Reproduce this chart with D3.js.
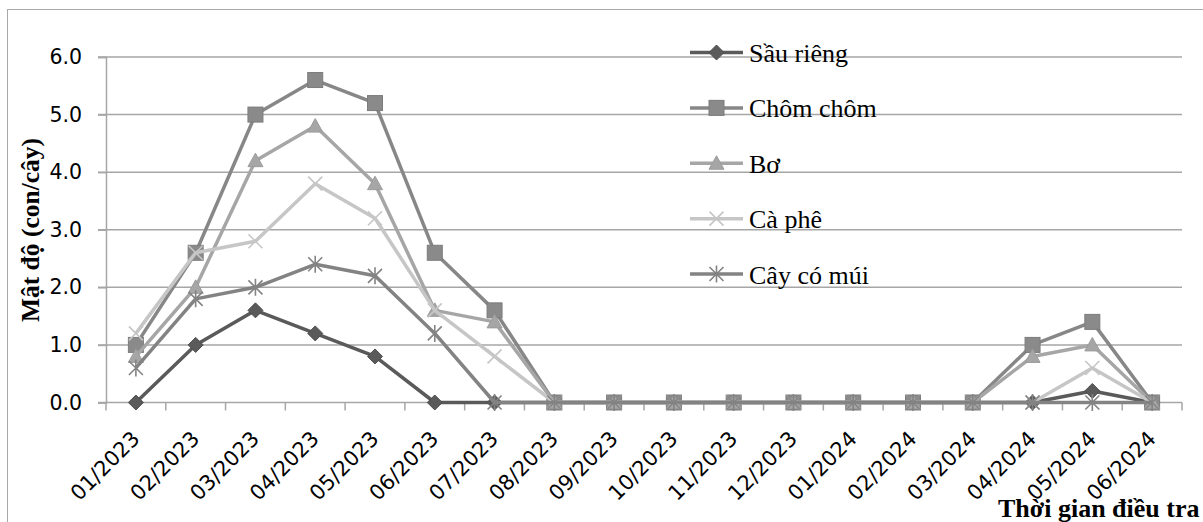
<!DOCTYPE html>
<html>
<head>
<meta charset="utf-8">
<script src="https://cdn.jsdelivr.net/npm/d3@7"></script>
<style>
  html, body { margin: 0; padding: 0; background: #fff; }
  svg { display: block; }
</style>
</head>
<body>
<svg id="chart" width="1203" height="522"></svg>
<script>
// Survey months
const months = ["01/2023","02/2023","03/2023","04/2023","05/2023","06/2023","07/2023","08/2023","09/2023","10/2023","11/2023","12/2023","01/2024","02/2024","03/2024","04/2024","05/2024","06/2024"];

// Pest density (con/cây) per crop
const sauRieng  = [0, 1.0, 1.6, 1.2, 0.8, 0, 0, 0, 0, 0, 0, 0, 0, 0, 0, 0, 0.2, 0];
const chomChom  = [1.0, 2.6, 5.0, 5.6, 5.2, 2.6, 1.6, 0, 0, 0, 0, 0, 0, 0, 0, 1.0, 1.4, 0];
const bo        = [0.8, 2.0, 4.2, 4.8, 3.8, 1.6, 1.4, 0, 0, 0, 0, 0, 0, 0, 0, 0.8, 1.0, 0];
const caPhe     = [1.2, 2.6, 2.8, 3.8, 3.2, 1.6, 0.8, 0, 0, 0, 0, 0, 0, 0, 0, 0, 0.6, 0];
const cayCoMui  = [0.6, 1.8, 2.0, 2.4, 2.2, 1.2, 0, 0, 0, 0, 0, 0, 0, 0, 0, 0, 0, 0];

const seriesNames = ["Sầu riêng", "Chôm chôm", "Bơ", "Cà phê", "Cây có múi"];
const yTicks = [0, 1, 2, 3, 4, 5, 6];

const yTitle = "Mật độ (con/cây)";
const xTitle = "Thời gian điều tra";

const series = [
  { name: seriesNames[0], values: sauRieng, color: "#5a5a5a", marker: "diamond", mfill: "#5a5a5a" },
  { name: seriesNames[1], values: chomChom, color: "#878787", marker: "square",  mfill: "#8a8a8a" },
  { name: seriesNames[2], values: bo,       color: "#a6a6a6", marker: "triangle", mfill: "#a6a6a6" },
  { name: seriesNames[3], values: caPhe,    color: "#c6c6c6", marker: "x",       mfill: "#c6c6c6" },
  { name: seriesNames[4], values: cayCoMui, color: "#838383", marker: "asterisk", mfill: "#838383" }
];

const svg = d3.select("#chart");
const W = 1203, H = 522;
const plot = { left: 106, right: 1182, top: 57, bottom: 402.5 };

// Outer chart frame
svg.append("rect")
  .attr("x", 7.5).attr("y", 9.5)
  .attr("width", W + 20).attr("height", H + 20)
  .attr("fill", "none").attr("stroke", "#a8a8a8").attr("stroke-width", 1);

const x = d3.scalePoint().domain(months).range([plot.left, plot.right]).padding(0.5);
const band = (plot.right - plot.left) / months.length;
const y = d3.scaleLinear().domain([0, 6]).range([plot.bottom, plot.top]);

const gridColor = "#a6a6a6";
const tickFont = "DejaVu Sans, sans-serif";

// Horizontal gridlines with left tick marks
svg.append("g").selectAll("line")
  .data(yTicks.filter(d => d > 0))
  .join("line")
  .attr("x1", plot.left - 8).attr("x2", plot.right)
  .attr("y1", d => y(d)).attr("y2", d => y(d))
  .attr("stroke", gridColor).attr("stroke-width", 1.5);

// Y axis
const yAxis = d3.axisLeft(y).tickValues(yTicks).tickFormat(d3.format(".1f")).tickSize(8).tickPadding(16);
const gy = svg.append("g").attr("transform", `translate(${plot.left},0)`).call(yAxis);
gy.select(".domain").attr("stroke", gridColor).attr("stroke-width", 1.5);
gy.selectAll(".tick line").attr("stroke", gridColor).attr("stroke-width", 1.5);
gy.selectAll(".tick text")
  .attr("font-family", tickFont)
  .attr("font-size", 20.5).attr("fill", "#000");

// X axis line and boundary ticks
svg.append("line")
  .attr("x1", plot.left - 8).attr("x2", plot.right)
  .attr("y1", plot.bottom).attr("y2", plot.bottom)
  .attr("stroke", gridColor).attr("stroke-width", 1.5);
svg.append("g").selectAll("line")
  .data(d3.range(months.length + 1))
  .join("line")
  .attr("x1", i => plot.left + i * band).attr("x2", i => plot.left + i * band)
  .attr("y1", plot.bottom).attr("y2", plot.bottom + 8)
  .attr("stroke", gridColor).attr("stroke-width", 1.5);

// Rotated month labels
svg.append("g").selectAll("text")
  .data(months)
  .join("text")
  .attr("transform", d => `translate(${x(d) + 5},440) rotate(-45)`)
  .attr("text-anchor", "end")
  .attr("font-family", tickFont)
  .attr("font-size", 21)
  .attr("fill", "#000")
  .text(d => d);

// Marker drawing
function drawMarker(g, type, fill, cx, cy) {
  if (type === "diamond") {
    const r = 7.5;
    g.append("path").attr("d", `M${cx},${cy - r}L${cx + r},${cy}L${cx},${cy + r}L${cx - r},${cy}Z`)
      .attr("fill", fill).attr("stroke", "#4e4e4e").attr("stroke-width", 1);
  } else if (type === "square") {
    const s = 7.5;
    g.append("rect").attr("x", cx - s).attr("y", cy - s).attr("width", 2 * s).attr("height", 2 * s)
      .attr("fill", fill).attr("stroke", "#7c7c7c").attr("stroke-width", 1);
  } else if (type === "triangle") {
    const s = 7.5;
    g.append("path").attr("d", `M${cx},${cy - 7.5}L${cx + s},${cy + 6}L${cx - s},${cy + 6}Z`)
      .attr("fill", fill).attr("stroke", "#9c9c9c").attr("stroke-width", 1);
  } else if (type === "x") {
    const s = 7;
    g.append("path").attr("d", `M${cx - s},${cy - s}L${cx + s},${cy + s}M${cx - s},${cy + s}L${cx + s},${cy - s}`)
      .attr("stroke", fill).attr("stroke-width", 1.6).attr("fill", "none");
  } else if (type === "asterisk") {
    const s = 7;
    g.append("path").attr("d", `M${cx - s},${cy - s}L${cx + s},${cy + s}M${cx - s},${cy + s}L${cx + s},${cy - s}M${cx},${cy - s - 1.5}L${cx},${cy + s + 1.5}`)
      .attr("stroke", fill).attr("stroke-width", 1.6).attr("fill", "none");
  }
}

// Series lines and markers
const line = d3.line().x((d, i) => x(months[i])).y(d => y(d));
series.forEach(s => {
  const g = svg.append("g");
  g.append("path")
    .datum(s.values)
    .attr("d", line)
    .attr("fill", "none")
    .attr("stroke", s.color)
    .attr("stroke-width", 3.5)
    .attr("stroke-linejoin", "round");
  s.values.forEach((v, i) => drawMarker(g, s.marker, s.mfill, x(months[i]), y(v)));
});

// Legend
const legendY = d3.scaleLinear().domain([0, 4]).range([52.5, 274]);
series.forEach((s, i) => {
  const g = svg.append("g");
  const ly = legendY(i);
  g.append("line").attr("x1", 690).attr("x2", 743).attr("y1", ly).attr("y2", ly)
    .attr("stroke", s.color).attr("stroke-width", 3.5);
  drawMarker(g, s.marker, s.mfill, 716.5, ly);
  g.append("text")
    .attr("x", 749).attr("y", ly + 9.5)
    .attr("font-family", "Liberation Serif, Times New Roman, serif")
    .attr("font-size", 26)
    .attr("fill", "#000")
    .text(s.name);
});

// Axis titles
svg.append("text")
  .attr("transform", `translate(39,230) rotate(-90)`)
  .attr("text-anchor", "middle")
  .attr("font-family", "Liberation Serif, Times New Roman, serif")
  .attr("font-weight", "bold")
  .attr("font-size", 25.5)
  .attr("fill", "#000")
  .text(yTitle);

svg.append("text")
  .attr("x", 998).attr("y", 517)
  .attr("font-family", "Liberation Serif, Times New Roman, serif")
  .attr("font-weight", "bold")
  .attr("font-size", 26)
  .attr("fill", "#000")
  .text(xTitle);
</script>
</body>
</html>
